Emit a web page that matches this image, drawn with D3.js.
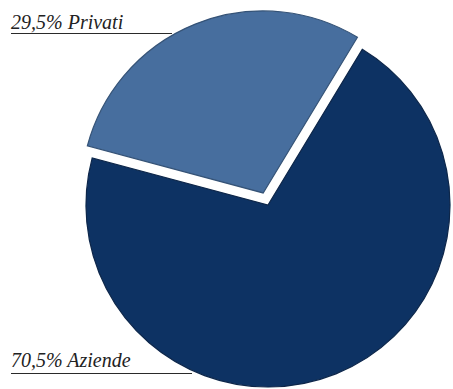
<!DOCTYPE html>
<html>
<head>
<meta charset="utf-8">
<script src="https://cdn.jsdelivr.net/npm/d3@7"></script>
<style>
  html, body { margin: 0; padding: 0; background: #fff; }
  svg { display: block; }
  .lbl { font-family: "Liberation Serif", "Times New Roman", serif; font-style: italic; font-size: 20px; fill: #222; }
</style>
</head>
<body>
<svg id="chart" width="453" height="389"></svg>
<script>
// Customer split
const categories = ["Privati", "Aziende"];
const shares = [29.5, 70.5];
const labels = ["29,5% Privati", "70,5% Aziende"];
const colors = ["#476e9e", "#0f3363"];

const W = 453, H = 389;
const cx = 268, cy = 205, R = 182;
const explode = 13;

const svg = d3.select("#chart");

const defs = svg.append("defs");
defs.append("filter").attr("id", "soft")
  .attr("x", "-10%").attr("y", "-10%").attr("width", "120%").attr("height", "120%")
  .append("feGaussianBlur").attr("stdDeviation", 0.6);

const pie = d3.pie().sort(null).value(d => d.v)
  .startAngle(-75 * Math.PI / 180)
  .endAngle(285 * Math.PI / 180);

const arcs = pie(categories.map((c, i) => ({ c, v: shares[i], color: colors[i] })));
const arc = d3.arc().innerRadius(0).outerRadius(R);

const g = svg.append("g").attr("transform", `translate(${cx},${cy})`);

// The "Privati" slice is pulled out along its bisector
g.selectAll("path.slice")
  .data(arcs)
  .join("path")
  .attr("class", "slice")
  .attr("transform", d => {
    if (d.data.c !== "Privati") return null;
    const m = (d.startAngle + d.endAngle) / 2;
    return `translate(${Math.sin(m) * explode},${-Math.cos(m) * explode})`;
  })
  .attr("d", arc)
  .attr("fill", d => d.data.color)
  .attr("stroke", d => d3.color(d.data.color).darker(0.8))
  .attr("stroke-width", 1.2)
  .attr("filter", "url(#soft)");

// Labels with underline rules
const labelData = [
  { text: labels[0], x: 11, y: 29, x2: 172, ly: 33.5 },
  { text: labels[1], x: 11, y: 367, x2: 192, ly: 373.5 }
];

svg.selectAll("line.rule")
  .data(labelData)
  .join("line")
  .attr("class", "rule")
  .attr("x1", 11).attr("x2", d => d.x2)
  .attr("y1", d => d.ly).attr("y2", d => d.ly)
  .attr("stroke", "#2a2a2a").attr("stroke-width", 1);

svg.selectAll("text.lbl")
  .data(labelData)
  .join("text")
  .attr("class", "lbl")
  .attr("x", d => d.x).attr("y", d => d.y)
  .text(d => d.text);
</script>
</body>
</html>
